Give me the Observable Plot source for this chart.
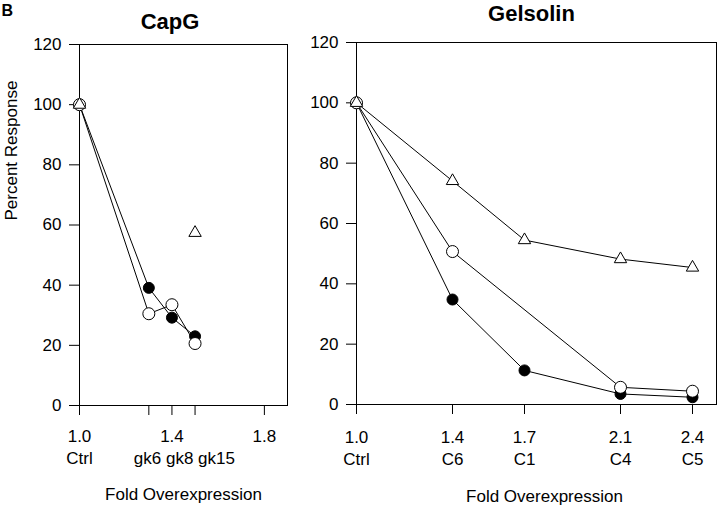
<!DOCTYPE html>
<html><head><meta charset="utf-8">
<script src="https://cdn.jsdelivr.net/npm/d3@7"></script>
<script src="https://cdn.jsdelivr.net/npm/@observablehq/plot@0.6"></script>
<style>
html,body{margin:0;padding:0;background:#fff;}
#wrap{position:relative;width:720px;height:508px;overflow:hidden;background:#fff;}
#left,#right{position:absolute;top:0;}
#left{left:0;} #right{left:290px;}
</style></head><body><div id="wrap"><div id="left"></div><div id="right"></div></div>
<script>
// ---- CapG panel data ----
const capgFold = [1.0, 1.3, 1.4, 1.5];
const capgCats = ["Ctrl", "gk6", "gk8", "gk15"];
const capgFilled = [100, 39.1, 29.2, 23.0];
const capgOpen = [100, 30.5, 33.5, 20.6];
const capgTriangle = [100, null, null, 57.4];
const capgTicks = [1.0, 1.3, 1.4, 1.5, 1.8];
const capgTickLabels = ["1.0", "", "1.4", "", "1.8"];

// ---- Gelsolin panel data ----
const gelFold = [1.0, 1.4, 1.7, 2.1, 2.4];
const gelCats = ["Ctrl", "C6", "C1", "C4", "C5"];
const gelFilled = [100, 34.8, 11.3, 3.5, 2.4];
const gelOpen = [100, 50.7, null, 5.7, 4.4];
const gelTriangle = [100, 74.1, 54.5, 48.2, 45.4];
const gelTickLabels = ["1.0", "1.4", "1.7", "2.1", "2.4"];

const yTicks = [0, 20, 40, 60, 80, 100, 120];

function rows(fold, vals) {
  return fold.map((f, i) => ({fold: f, pct: vals[i]})).filter(d => d.pct != null);
}

const FONT = "'Liberation Sans', Arial, Helvetica, sans-serif";
const baseStyle = {fontFamily: FONT, fontSize: "17px", background: "white", color: "black", overflow: "visible"};

function seriesMarks(filled, open, tri, lineTri) {
  const marks = [
    Plot.line(filled, {x: "fold", y: "pct", stroke: "black", strokeWidth: 1}),
    Plot.line(open, {x: "fold", y: "pct", stroke: "black", strokeWidth: 1})
  ];
  if (lineTri) marks.push(Plot.line(tri, {x: "fold", y: "pct", stroke: "black", strokeWidth: 1}));
  marks.push(
    Plot.dot(filled, {x: "fold", y: "pct", r: 5.5, fill: "black", stroke: "black", strokeWidth: 1}),
    Plot.dot(open, {x: "fold", y: "pct", r: 6, fill: "white", stroke: "black", strokeWidth: 1}),
    Plot.dot(tri, {x: "fold", y: "pct", symbol: "triangle", r: 4.6, fill: "white", stroke: "black", strokeWidth: 1})
  );
  return marks;
}

const left = Plot.plot({
  width: 290, height: 508,
  marginLeft: 79, marginRight: 3, marginTop: 44, marginBottom: 103,
  style: baseStyle,
  x: {domain: [1.0, 1.9]},
  y: {domain: [0, 120]},
  marks: [
    Plot.frame({stroke: "black", strokeWidth: 1}),
    Plot.axisY({ticks: yTicks, tickSize: 10, tickPadding: 8, label: null, tickFormat: d => String(d)}),
    Plot.axisX({ticks: capgTicks, tickSize: 10, tickPadding: 14, label: null,
      tickFormat: d => capgTickLabels[capgTicks.indexOf(d)]}),
    Plot.axisX({ticks: [capgFold[0]], tickSize: 0, tickPadding: 46, label: null,
      tickFormat: d => capgCats[capgFold.indexOf(d)]}),
    Plot.text([{fold: capgFold[1], t: capgCats.slice(1).join(" ")}],
      {x: "fold", text: "t", frameAnchor: "bottom", textAnchor: "start", lineAnchor: "top", dx: -15, dy: 46}),
    Plot.text(["Fold Overexpression"], {text: d => d, frameAnchor: "bottom", lineAnchor: "top", dy: 82}),
    Plot.text(["Percent Response"], {text: d => d, frameAnchor: "left", rotate: -90, lineAnchor: "top", dx: -75, dy: -4.5}),
    Plot.text(["CapG"], {text: d => d, frameAnchor: "top", lineAnchor: "top", dx: -13.5, dy: -31, fontSize: 22, fontWeight: "bold"}),
    Plot.text(["B"], {text: d => d, frameAnchor: "top-left", textAnchor: "start", lineAnchor: "top", dx: -78, dy: -40, fontSize: 16, fontWeight: "bold"}),
    ...seriesMarks(rows(capgFold, capgFilled), rows(capgFold, capgOpen), rows(capgFold, capgTriangle), false)
  ]
});
document.getElementById("left").appendChild(left);

const right = Plot.plot({
  width: 430, height: 508,
  marginLeft: 66, marginRight: 4, marginTop: 42, marginBottom: 104,
  style: baseStyle,
  x: {domain: [1.0, 2.5]},
  y: {domain: [0, 120]},
  marks: [
    Plot.frame({stroke: "black", strokeWidth: 1}),
    Plot.axisY({ticks: yTicks, tickSize: 10, tickPadding: 8, label: null, tickFormat: d => String(d)}),
    Plot.axisX({ticks: gelFold, tickSize: 10, tickPadding: 16, label: null,
      tickFormat: d => gelTickLabels[gelFold.indexOf(d)]}),
    Plot.axisX({ticks: gelFold, tickSize: 0, tickPadding: 48, label: null,
      tickFormat: d => gelCats[gelFold.indexOf(d)]}),
    Plot.text(["Fold Overexpression"], {text: d => d, frameAnchor: "bottom", lineAnchor: "top", dx: 8, dy: 85}),
    Plot.text(["Gelsolin"], {text: d => d, frameAnchor: "top", lineAnchor: "top", dx: -5, dy: -37, fontSize: 22, fontWeight: "bold"}),
    ...seriesMarks(rows(gelFold, gelFilled), rows(gelFold, gelOpen), rows(gelFold, gelTriangle), true)
  ]
});
document.getElementById("right").appendChild(right);
</script></body></html>
